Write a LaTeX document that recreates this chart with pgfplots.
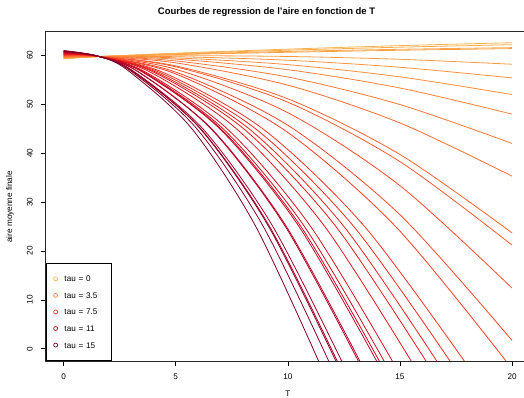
\documentclass[border=0pt]{standalone}
\usepackage{pgfplots}
\pgfplotsset{compat=1.18}
\usepackage{fontspec}
\setmainfont{Liberation Sans}
\definecolor{A0}{RGB}{254,178,76}
\definecolor{A1}{RGB}{253,141,60}
\definecolor{A2}{RGB}{252,78,42}
\definecolor{A3}{RGB}{227,26,28}
\definecolor{A4}{RGB}{189,0,38}
\definecolor{A5}{RGB}{128,0,38}
\colorlet{c0}{A0}\colorlet{c1}{A0!83!A1}\colorlet{c2}{A0!67!A1}\colorlet{c3}{A0!50!A1}\colorlet{c4}{A0!33!A1}\colorlet{c5}{A0!17!A1}
\colorlet{c6}{A1}\colorlet{c7}{A1!83!A2}\colorlet{c8}{A1!67!A2}\colorlet{c9}{A1!50!A2}\colorlet{c10}{A1!33!A2}\colorlet{c11}{A1!17!A2}
\colorlet{c12}{A2}\colorlet{c13}{A2!83!A3}\colorlet{c14}{A2!67!A3}\colorlet{c15}{A2!50!A3}\colorlet{c16}{A2!33!A3}\colorlet{c17}{A2!17!A3}
\colorlet{c18}{A3}\colorlet{c19}{A3!83!A4}\colorlet{c20}{A3!67!A4}\colorlet{c21}{A3!50!A4}\colorlet{c22}{A3!33!A4}\colorlet{c23}{A3!17!A4}
\colorlet{c24}{A4}\colorlet{c25}{A4!83!A5}\colorlet{c26}{A4!67!A5}\colorlet{c27}{A4!50!A5}\colorlet{c28}{A4!33!A5}\colorlet{c29}{A4!17!A5}
\colorlet{c30}{A5}
\begin{document}
\begin{tikzpicture}
\useasboundingbox (0,0) rectangle (524bp,398bp);
\begin{axis}[
  scale only axis, width=484.3bp, height=330bp,
  at={(45.7bp,37bp)}, anchor=south west,
  xmin=-0.8, xmax=20.8, ymin=-2.5, ymax=65,
  xtick={0,5,10,15,20}, ytick={0,10,20,30,40,50,60},
  tick pos=left, tick align=outside, major tick length=5bp,
  tick style={black, line width=0.6pt},
  axis line style={black!85, line width=0.6pt},
  /pgf/number format/assume math mode=true,
  tick label style={font=\fontsize{8.2}{10}\selectfont},
  xticklabel style={anchor=center, yshift=-11bp},
  yticklabel style={xshift=-11bp, rotate=90, anchor=center},
  every axis title shift=0pt,
  title={Courbes de regression de l'aire en fonction de T},
  title style={at={(0.456,1.0576)}, anchor=center, font=\bfseries\fontsize{9.5}{11}\selectfont},
  xlabel={T}, xlabel style={at={(0.5,-0.1)}, anchor=center, font=\fontsize{8.2}{10}\selectfont},
  ylabel={aire moyenne finale}, ylabel style={at={(-0.0737,0.4667)}, anchor=center, font=\fontsize{8.2}{10}\selectfont},
  legend style={at={(0,0)}, anchor=south west, draw=black, line width=0.6pt,
    font=\fontsize{8.2}{10}\selectfont, inner xsep=4.8bp, inner ysep=10.6bp, row sep=6.6bp,
    nodes={text width=40bp, align=left, text height=6bp, text depth=0bp}},
  legend cell align=left,
  legend image code/.code={\path (0bp,0bp) (11bp,0bp); \draw[#1] plot coordinates {(4.5bp,0bp)};},
  every axis plot/.append style={line width=0.8bp, smooth},
]
\addplot[c0, forget plot] coordinates {(0,59.30)(1.5,59.75)(5,60.46)(10,61.29)(15,62.01)(20,62.60)};
\addplot[c1, forget plot] coordinates {(0,59.36)(1.5,59.76)(5,60.36)(10,61.08)(15,61.69)(20,62.20)};
\addplot[c2, forget plot] coordinates {(0,59.41)(1.5,59.76)(5,60.26)(10,60.82)(15,61.26)(20,61.60)};
\addplot[c3, forget plot] coordinates {(0,59.47)(1.5,59.77)(5,60.17)(10,60.65)(15,61.06)(20,61.40)};
\addplot[c4, forget plot] coordinates {(0,59.53)(1.5,59.77)(5,59.95)(10,59.79)(15,59.21)(20,58.20)};
\addplot[c5, forget plot] coordinates {(0,59.58)(1.5,59.78)(5,59.74)(10,59.02)(15,57.58)(20,55.40)};
\addplot[c6, forget plot] coordinates {(0,59.64)(1.5,59.78)(5,59.50)(10,58.12)(15,55.62)(20,52.00)};
\addplot[c7, forget plot] coordinates {(0,59.70)(1.5,59.79)(5,59.24)(10,57.08)(15,53.34)(20,48.00)};
\addplot[c8, forget plot] coordinates {(0,59.75)(1.5,59.79)(5,58.88)(10,55.58)(15,49.95)(20,42.00)};
\addplot[c9, forget plot] coordinates {(0,59.81)(1.5,59.80)(5,58.48)(10,53.92)(15,46.19)(20,35.30)};
\addplot[c10, forget plot] coordinates {(0,59.87)(1.5,59.80)(5,57.86)(10,51.13)(15,39.74)(20,23.70)};
\addplot[c11, forget plot] coordinates {(0,59.92)(1.5,59.81)(5,57.67)(10,50.43)(15,38.28)(20,21.20)};
\addplot[c12, forget plot] coordinates {(0,59.98)(1.5,59.81)(5,57.17)(10,48.29)(15,33.36)(20,12.40)};
\addplot[c13, forget plot] coordinates {(0,60.04)(1.5,59.82)(5,56.59)(10,45.71)(15,27.41)(20,1.70)};
\addplot[c14, forget plot] coordinates {(0,60.09)(1.5,59.82)(4.93,56.34)(9.87,44.65)(14.80,25.04)(19.73,-2.5)};
\addplot[c15, forget plot] coordinates {(0,60.15)(1.5,59.83)(4.47,56.46)(8.94,44.79)(13.40,25.13)(17.87,-2.5)};
\addplot[c16, forget plot] coordinates {(0,60.21)(1.5,59.83)(4.31,56.47)(8.62,44.78)(12.92,25.12)(17.23,-2.5)};
\addplot[c17, forget plot] coordinates {(0,60.26)(1.5,59.84)(4.16,56.50)(8.32,44.80)(12.48,25.13)(16.64,-2.5)};
\addplot[c18, forget plot] coordinates {(0,60.32)(1.5,59.84)(4.04,56.53)(8.08,44.81)(12.12,25.14)(16.16,-2.5)};
\addplot[c19, forget plot] coordinates {(0,60.38)(1.5,59.85)(3.875,56.56)(7.75,44.83)(11.625,25.14)(15.5,-2.5)};
\addplot[c20, forget plot] coordinates {(0,60.43)(1.5,59.85)(3.665,56.58)(7.33,44.84)(10.995,25.15)(14.66,-2.5)};
\addplot[c21, forget plot] coordinates {(0,60.49)(1.5,59.86)(3.5725,56.61)(7.145,44.86)(10.7175,25.16)(14.29,-2.5)};
\addplot[c22, forget plot] coordinates {(0,60.55)(1.5,59.86)(3.52,56.64)(7.04,44.88)(10.56,25.16)(14.08,-2.5)};
\addplot[c23, forget plot] coordinates {(0,60.60)(1.5,59.87)(3.49,56.69)(6.98,44.92)(10.47,25.19)(13.96,-2.5)};
\addplot[c24, forget plot] coordinates {(0,60.66)(1.5,59.87)(3.3025,56.73)(6.605,44.96)(9.9075,25.21)(13.21,-2.5)};
\addplot[c25, forget plot] coordinates {(0,60.72)(1.5,59.88)(3.285,56.77)(6.57,45.00)(9.855,25.24)(13.14,-2.5)};
\addplot[c26, forget plot] coordinates {(0,60.77)(1.5,59.88)(3.1,56.82)(6.2,45.04)(9.3,25.26)(12.4,-2.5)};
\addplot[c27, forget plot] coordinates {(0,60.83)(1.5,59.89)(3.05,56.87)(6.1,45.08)(9.15,25.29)(12.2,-2.5)};
\addplot[c28, forget plot] coordinates {(0,60.89)(1.5,59.89)(3.035,56.91)(6.07,45.12)(9.105,25.31)(12.14,-2.5)};
\addplot[c29, forget plot] coordinates {(0,60.94)(1.5,59.90)(2.955,56.96)(5.91,45.16)(8.865,25.34)(11.82,-2.5)};
\addplot[c30, forget plot] coordinates {(0,61.00)(1.5,59.90)(2.8425,57.01)(5.685,45.20)(8.5275,25.36)(11.37,-2.5)};
\addlegendimage{only marks, mark=o, mark size=2bp, line width=0.7bp, c0}
\addlegendentry{tau = 0}
\addlegendimage{only marks, mark=o, mark size=2bp, line width=0.7bp, c7}
\addlegendentry{tau = 3.5}
\addlegendimage{only marks, mark=o, mark size=2bp, line width=0.7bp, c15}
\addlegendentry{tau = 7.5}
\addlegendimage{only marks, mark=o, mark size=2bp, line width=0.7bp, c22}
\addlegendentry{tau = 11}
\addlegendimage{only marks, mark=o, mark size=2bp, line width=0.7bp, c30}
\addlegendentry{tau = 15}
\end{axis}
\end{tikzpicture}
\end{document}
